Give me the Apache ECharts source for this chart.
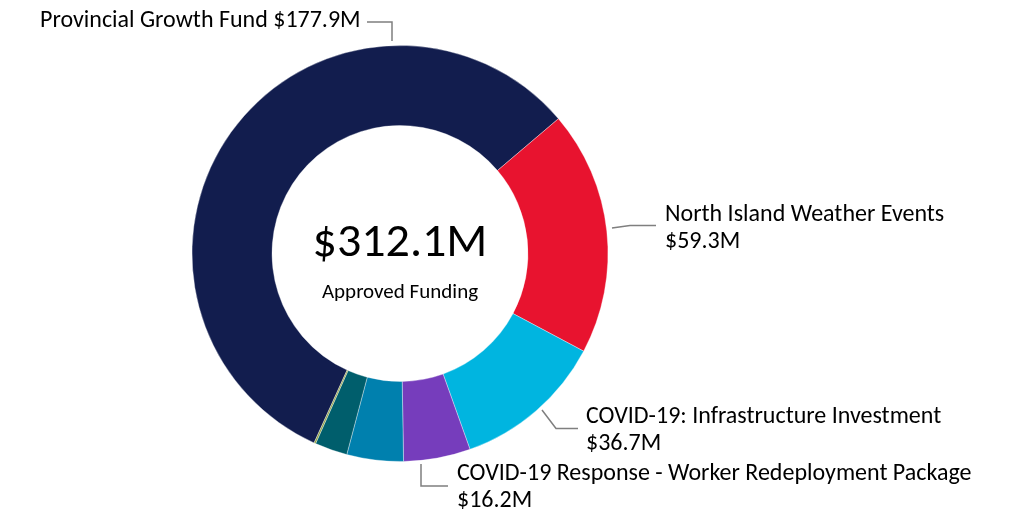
<!DOCTYPE html>
<html>
<head>
<meta charset="utf-8">
<script src="https://cdn.jsdelivr.net/npm/echarts@6/dist/echarts.min.js"></script>
<style>
  html, body { margin: 0; padding: 0; background: #ffffff; }
  #chart { width: 1014px; height: 514px; }
</style>
</head>
<body>
<div id="chart"></div>
<script>
// ---- Data ----
var categories = [
  'Provincial Growth Fund',
  'North Island Weather Events',
  'COVID-19: Infrastructure Investment',
  'COVID-19 Response - Worker Redeployment Package',
  'Other funding A',
  'Other funding B',
  'Other funding C'
];
var values = [177.9, 59.3, 36.7, 16.2, 13.7, 7.9, 0.4];
var labelled = [true, true, true, true, false, false, false];
var totalText = '$312.1M';
var centerCaption = 'Approved Funding';

// ---- Styles / layout ----
var colors = ['#121d4e', '#e8132f', '#00b5e0', '#763dbc', '#0080ae', '#005e6c', '#8c9c3c'];
var FONT = 'Carlito, Calibri, Lato, sans-serif';
var CX = 400, CY = 253.5, R_IN = 128, R_OUT = 208;

// label placement (left edge x, vertical middle y) and leader lines per item
var labelPlacement = {
  0: { x: 40, y: 21, line: [[392, 41], [392, 22], [367, 22]] },
  1: { x: 665, y: 228, line: [[612, 228], [630, 225.5], [656, 225.5]] },
  2: { x: 586, y: 430.5, line: [[542, 410], [556, 428.5], [578, 428.5]] },
  3: { x: 457, y: 487.5, line: [[421, 464], [421, 486], [448, 486]] }
};

var data = categories.map(function (name, i) {
  var item = {
    name: name,
    value: values[i],
    itemStyle: { color: colors[i] }
  };
  if (!labelled[i]) {
    item.label = { show: false };
    item.labelLine = { show: false };
  }
  return item;
});

var chart = echarts.init(document.getElementById('chart'), null, { renderer: 'canvas' });
chart.setOption({
  animation: false,
  backgroundColor: '#ffffff',
  series: [{
    type: 'pie',
    center: [CX, CY],
    radius: [R_IN, R_OUT],
    startAngle: 245.6,
    clockwise: true,
    avoidLabelOverlap: false,
    data: data,
    itemStyle: { borderColor: 'rgba(255,255,255,0.6)', borderWidth: 0.6 },
    emphasis: { disabled: true },
    label: {
      show: true,
      position: 'outside',
      fontFamily: FONT,
      fontSize: 24,
      color: '#000000',
      lineHeight: 27,
      align: 'left',
      formatter: function (p) {
        var v = '$' + p.value.toFixed(1) + 'M';
        return p.dataIndex === 0 ? p.name + ' ' + v : p.name + '\n' + v;
      }
    },
    labelLine: {
      show: true,
      lineStyle: { color: '#7f7f7f', width: 1.5 }
    },
    labelLayout: function (params) {
      var pl = labelPlacement[params.dataIndex];
      if (!pl) return {};
      return {
        x: pl.x,
        y: pl.y,
        align: 'left',
        verticalAlign: 'middle',
        labelLinePoints: pl.line
      };
    }
  }],
  graphic: [
    {
      type: 'text',
      style: {
        text: totalText,
        x: CX, y: 244,
        align: 'center', verticalAlign: 'middle',
        font: '48px ' + FONT,
        fill: '#000000'
      }
    },
    {
      type: 'text',
      style: {
        text: centerCaption,
        x: CX, y: 292.5,
        align: 'center', verticalAlign: 'middle',
        font: '21px ' + FONT,
        fill: '#000000'
      }
    }
  ]
});
</script>
</body>
</html>
